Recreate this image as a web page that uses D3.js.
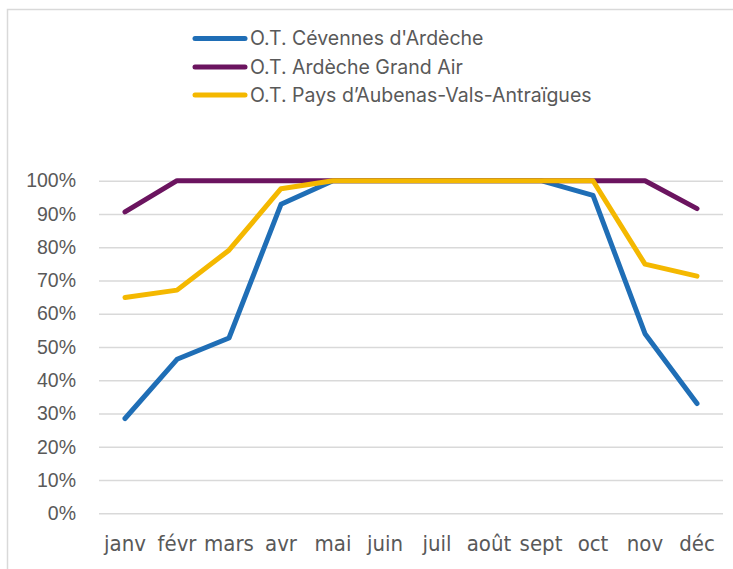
<!DOCTYPE html>
<html><head><meta charset="utf-8">
<script src="https://cdn.jsdelivr.net/npm/d3@7"></script>
<style>html,body{margin:0;padding:0;background:#fff;overflow:hidden}</style>
</head><body>
<svg id="c" width="733" height="569"></svg>
<script>
const months = ["janv","févr","mars","avr","mai","juin","juil","août","sept","oct","nov","déc"];
const seriesNames = ["O.T. Cévennes d'Ardèche","O.T. Ardèche Grand Air","O.T. Pays d\u2019Aubenas-Vals-Antraïgues"];
const cevennes = [0.285,0.463,0.527,0.929,1,1,1,1,1,0.956,0.54,0.33];
const grandAir = [0.906,1,1,1,1,1,1,1,1,1,1,0.916];
const aubenas = [0.649,0.671,0.791,0.976,1,1,1,1,1,1,0.749,0.713];
const colors = ["#1F6EB6","#6B145F","#F4B800"];
const yTicks = [0,0.1,0.2,0.3,0.4,0.5,0.6,0.7,0.8,0.9,1];

(function(){
const svg = d3.select("#c");
svg.append("rect").attr("x",7.5).attr("y",9.5).attr("width",800).attr("height",700)
  .attr("fill","#fff").attr("stroke","#d9d9d9").attr("stroke-width",1.5);

const mL = 99, mR = 723, mT = 180.7, mB = 513.3;
const x = d3.scaleBand().domain(months).range([mL,mR]);
const y = d3.scaleLinear().domain([0,1]).range([mB,mT]);

const yAxis = d3.axisLeft(y).tickValues(yTicks).tickFormat(d3.format(".0%")).tickSize(-(mR-mL)).tickPadding(23);
const gy = svg.append("g").attr("transform",`translate(${mL},0)`).call(yAxis);
gy.select(".domain").remove();
gy.selectAll(".tick line").attr("stroke","#d9d9d9").attr("stroke-width",1.5);
gy.selectAll(".tick text").attr("fill","#595959").style("font-family","'Liberation Sans',Arial,sans-serif").style("font-size","19.5px");

const xAxis = d3.axisBottom(x).tickSize(0).tickPadding(22);
const gx = svg.append("g").attr("transform",`translate(0,${mB})`).call(xAxis);
gx.select(".domain").remove();
gx.selectAll(".tick text").attr("fill","#595959")
  .style("font-family","'Liberation Sans Narrow','DejaVu Sans Condensed','Arial Narrow',sans-serif")
  .style("font-stretch","condensed").style("font-size","22px");

const line = d3.line().x((d,i)=>x(months[i])+x.bandwidth()/2).y(d=>y(d));
[cevennes,grandAir,aubenas].forEach((s,k)=>{
  svg.append("path").datum(s).attr("d",line).attr("fill","none")
    .attr("stroke",colors[k]).attr("stroke-width",5).attr("stroke-linecap","round").attr("stroke-linejoin","round");
});

const legY = [38.5,67,95];
seriesNames.forEach((n,k)=>{
  svg.append("line").attr("x1",195).attr("x2",245).attr("y1",legY[k]).attr("y2",legY[k])
    .attr("stroke",colors[k]).attr("stroke-width",5).attr("stroke-linecap","round");
  svg.append("text").attr("x",250).attr("y",legY[k]).attr("dy","0.35em").text(n)
    .attr("fill","#595959").style("font-family","Inter,sans-serif").style("font-size","19.5px");
});
})();
</script>
</body></html>
